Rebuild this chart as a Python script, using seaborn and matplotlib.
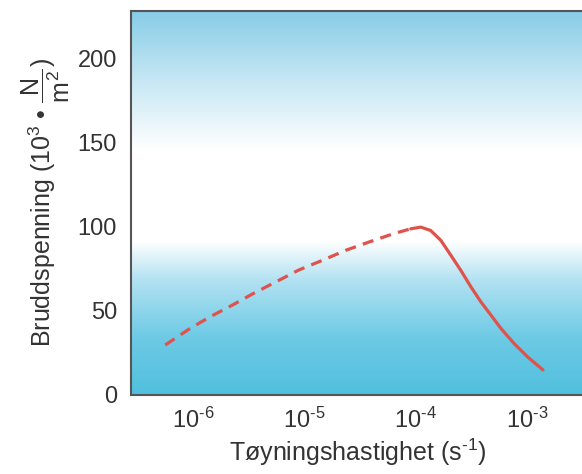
import numpy as np
import pandas as pd
import matplotlib
matplotlib.use("Agg")
import matplotlib.pyplot as plt
import seaborn as sns
from matplotlib.colors import LinearSegmentedColormap

# Data
rate_dashed = [5.6e-7, 9.4e-7, 1.42e-6, 2.25e-6, 3.47e-6, 5.5e-6, 8.8e-6,
               1.45e-5, 2.34e-5, 3.78e-5, 6.3e-5, 9.0e-5]
stress_dashed = [29.6, 39.5, 46.4, 53.3, 60.2, 67.0, 74.0, 79.9, 85.8, 90.7, 95.7, 98.6]

rate_solid = [9.0e-5, 1.11e-4, 1.36e-4, 1.68e-4, 2.07e-4, 2.54e-4, 3.13e-4,
              3.85e-4, 4.74e-4, 5.83e-4, 7.64e-4, 1.02e-3, 1.39e-3]
stress_solid = [98.6, 99.6, 97.6, 91.7, 82.8, 73.9, 64.1, 55.2, 47.3, 39.4, 30.5, 22.3, 14.8]

xtick_vals = [1e-6, 1e-5, 1e-4, 1e-3]
xtick_labels = [r"10$^{\text{-6}}$", r"10$^{\text{-5}}$", r"10$^{\text{-4}}$", r"10$^{\text{-3}}$"]
ytick_vals = [0, 50, 100, 150, 200]

df_dashed = pd.DataFrame({"rate": rate_dashed, "stress": stress_dashed})
df_solid = pd.DataFrame({"rate": rate_solid, "stress": stress_solid})

sns.set_style("white")
plt.rcParams["font.family"] = ["Liberation Sans", "DejaVu Sans"]
plt.rcParams["mathtext.fontset"] = "custom"
plt.rcParams["mathtext.rm"] = "Liberation Sans"
plt.rcParams["mathtext.it"] = "Liberation Sans"
plt.rcParams["mathtext.bf"] = "Liberation Sans:bold"

fig = plt.figure(figsize=(5.82, 4.74), dpi=100)
ax = fig.add_axes([0.225, 0.167, 0.78, 0.81])

# bakgrunn: blå-hvit-blå gradient
cmap = LinearSegmentedColormap.from_list("bg", [
    (0.0, "#50c0de"), (0.15, "#6ecae5"), (0.30, "#b3e2f2"), (0.40, "#ffffff"),
    (0.64, "#ffffff"), (0.80, "#cdeaf5"), (1.0, "#88cde7")])
grad = np.linspace(0, 1, 256).reshape(-1, 1)
ax.imshow(grad, cmap=cmap, aspect="auto", extent=[0, 1, 0, 1], origin="lower",
          transform=ax.transAxes, zorder=0)

red = "#e0524c"
sns.lineplot(data=df_dashed, x="rate", y="stress", ax=ax, color=red, linewidth=2.3,
             zorder=3).lines[0].set_dashes([3.5, 2.3])
sns.lineplot(data=df_solid, x="rate", y="stress", ax=ax, color=red, linewidth=2.3, zorder=3)

ax.set_xscale("log")
ax.set_xlim(10 ** -6.56, 10 ** -2.48)
ax.set_ylim(0, 228)
ax.set_xticks(xtick_vals)
ax.set_xticklabels(xtick_labels)
ax.minorticks_off()
ax.set_yticks(ytick_vals)
ax.tick_params(axis="both", length=0, labelsize=17, colors="#333333")
ax.tick_params(axis="y", pad=10)
ax.tick_params(axis="x", pad=9)

ax.set_xlabel(r"Tøyningshastighet (s$^{\text{-1}}$)", fontsize=18, color="#333333", labelpad=3)
ax.set_ylabel(r"Bruddspenning (10$^3$ • $\dfrac{N}{m^2}$)", fontsize=18, color="#333333",
              labelpad=4)

for side in ["left", "bottom", "top"]:
    ax.spines[side].set_color("#555555")
    ax.spines[side].set_linewidth(1.5)
ax.spines["right"].set_visible(False)

fig.savefig("out.png", dpi=100)
